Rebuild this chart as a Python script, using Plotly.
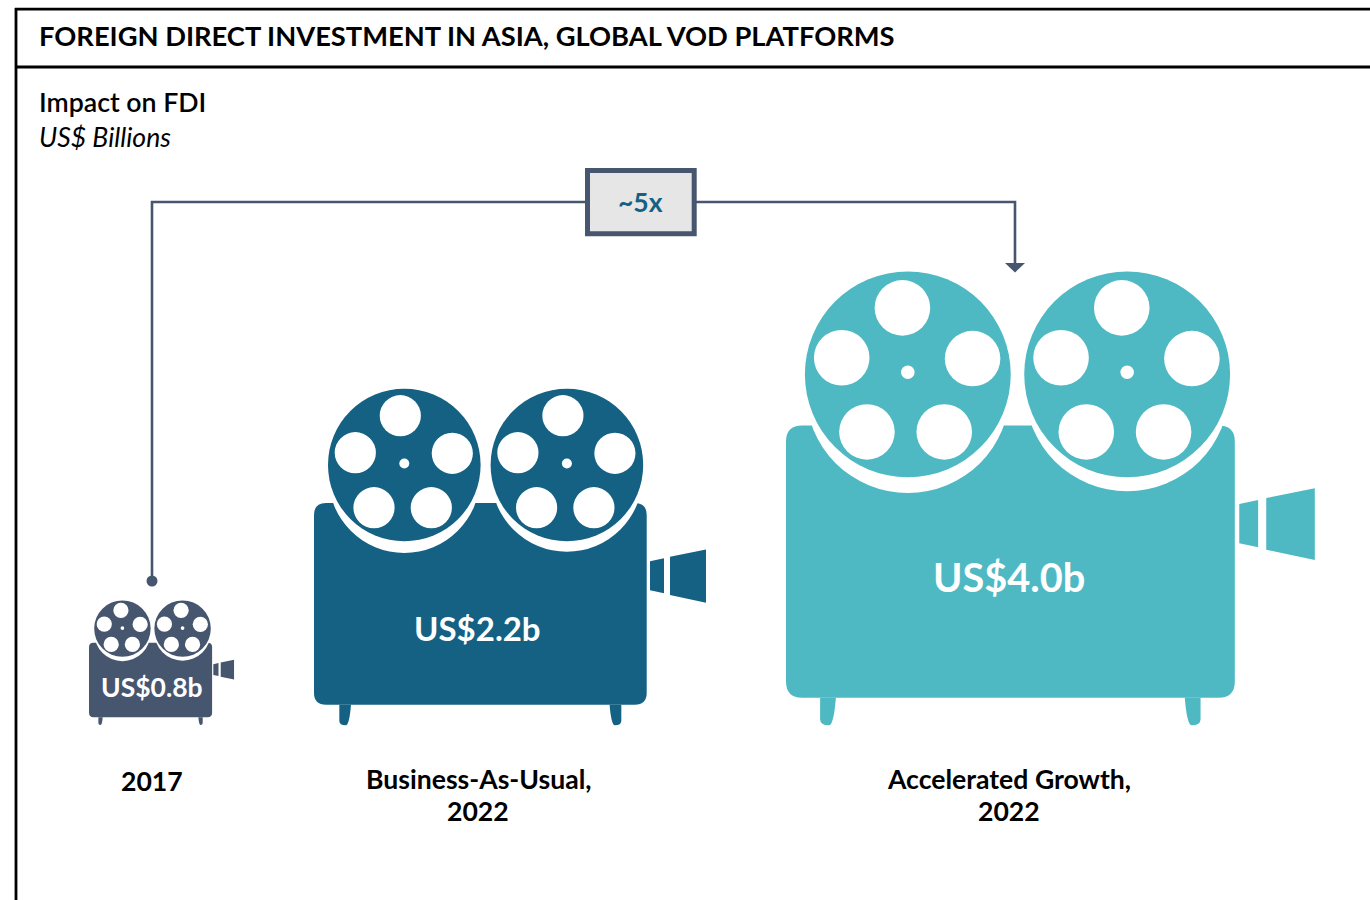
import plotly.graph_objects as go

# ---- data ----
categories = ["2017", "Business-As-Usual,\n2022", "Accelerated Growth,\n2022"]
values = [0.8, 2.2, 4.0]
multiple_label = "~5x"
title = "FOREIGN DIRECT INVESTMENT IN ASIA, GLOBAL VOD PLATFORMS"
subtitle = "Impact on FDI"
unit = "US$ Billions"

# ---- styles / layout ----
colors = ["#47566F", "#146184", "#4EB9C3"]
icon_scale = [0.370, 1.0, 1.349]
icon_left = [89.0, 314.0, 786.0]
icon_bottom = [717.3, 704.7, 697.7]
value_label_y = [686.5, 628, 576.5]
value_label_size = [26.5, 33, 39.7]
value_label_x = [152, 477.7, 1009]
cat_x = [152, 478, 1009]
cat_y = [[781], [779, 810.5], [779, 810.5]]
FONT = "Lato, Carlito, 'Open Sans', sans-serif"
LINE = "#47566F"
INK = "#000000"

shapes = []
annotations = []


def rounded_path(x0, y0, x1, y1, r):
    return (f"M{x0+r},{y0} L{x1-r},{y0} Q{x1},{y0} {x1},{y0+r} L{x1},{y1-r} Q{x1},{y1} {x1-r},{y1} "
            f"L{x0+r},{y1} Q{x0},{y1} {x0},{y1-r} L{x0},{y0+r} Q{x0},{y0} {x0+r},{y0} Z")


def circle(cx, cy, r, fill):
    shapes.append(dict(type="circle", xref="x", yref="y", x0=cx-r, x1=cx+r, y0=cy-r, y1=cy+r,
                       fillcolor=fill, line=dict(width=0), layer="above"))


def path(d, fill):
    shapes.append(dict(type="path", xref="x", yref="y", path=d, fillcolor=fill,
                       line=dict(width=0), layer="above"))


def poly(points, fill):
    d = "M" + " L".join(f"{a},{b}" for a, b in points) + " Z"
    path(d, fill)


def camera(left, bottom, s, color):
    # geometry relative to the body's lower-left corner, in units of the mid-sized icon
    X = lambda u: left + u * s
    Y = lambda v: bottom - v * s
    path(rounded_path(X(0), Y(201.7), X(332.7), Y(0), 12 * s), color)
    # legs
    for sign, base in ((1, 25.3), (-1, 307.3)):
        a = X(base)
        b = X(base + sign * 11.7)
        c = X(base + sign * 6.5)
        d = (f"M{a},{Y(0)} L{a},{Y(-16)} Q{a},{Y(-20.5)} {c},{Y(-20.5)} "
             f"Q{X(base + sign * 10)},{Y(-20.5)} {b},{Y(0)} Z")
        path(d, color)
    # lens
    poly([(X(336), Y(143.5)), (X(350), Y(146.5)), (X(350), Y(111.5)), (X(336), Y(114.5))], color)
    poly([(X(356), Y(148)), (X(392), Y(155.3)), (X(392), Y(102)), (X(356), Y(109.7))], color)
    # reels
    for cu, halo in ((90.3, 12.3), (252.9, 11.0)):
        cv = 239.7
        circle(X(cu), Y(cv - halo), 75.7 * s, "#FFFFFF")
        circle(X(cu), Y(cv), 76.3 * s, color)
        for du, dv in ((-4, 49.3), (-49, 12.3), (48, 11.7), (-30.3, -42.7), (27, -42.7)):
            circle(X(cu + du), Y(cv + dv), 20.6 * s, "#FFFFFF")
        circle(X(cu), Y(cv + 1.5), 5 * s, "#FFFFFF")


def text(x, y, s, size, color=INK, anchor="center", weight=400, italic=False):
    annotations.append(dict(x=x, y=y, xref="x", yref="y", text=s, showarrow=False,
                            xanchor=anchor, yanchor="middle", align=anchor,
                            font=dict(family=FONT, size=size, color=color, weight=weight,
                                      style="italic" if italic else "normal")))


# frame
for a, b, c, d in ((15, 9.2, 1370, 9.2), (16, 8, 16, 900), (15, 67, 1370, 67)):
    shapes.append(dict(type="line", xref="x", yref="y", x0=a, y0=b, x1=c, y1=d,
                       line=dict(color=INK, width=2.8)))

# connector
shapes.append(dict(type="path", xref="x", yref="y",
                   path="M152,581 L152,202 L1015,202 L1015,264",
                   line=dict(color=LINE, width=2.6), fillcolor="rgba(0,0,0,0)"))
circle(152, 581, 5.5, LINE)
poly([(1005, 263), (1025, 263), (1015, 272.5)], LINE)
shapes.append(dict(type="rect", xref="x", yref="y", x0=587.5, x1=694.2, y0=170.5, y1=233.8,
                   fillcolor="#E7E6E6", line=dict(color=LINE, width=5), layer="above"))

# cameras
for left, bottom, s, col in zip(icon_left, icon_bottom, icon_scale, colors):
    camera(left, bottom, s, col)

# text
text(36.5, 35.5, title, 27.3, weight=700, anchor="left")
text(36.5, 102, subtitle, 26.7, weight=600, anchor="left")
text(36.5, 136.5, unit, 26.6, anchor="left", italic=True)
text(640.5, 202, multiple_label, 26.5, color="#146184", weight=700)
for v, x, y, sz in zip(values, value_label_x, value_label_y, value_label_size):
    text(x, y, f"US${v:.1f}b", sz, color="#FFFFFF", weight=700)
for cat, x, ys in zip(categories, cat_x, cat_y):
    for line, y in zip(cat.split("\n"), ys):
        text(x, y, line, 26.6, weight=700)

fig = go.Figure()
fig.update_layout(
    width=1370, height=900, margin=dict(l=0, r=0, t=0, b=0),
    paper_bgcolor="#FFFFFF", plot_bgcolor="#FFFFFF", showlegend=False,
    xaxis=dict(range=[0, 1370], visible=False, fixedrange=True),
    yaxis=dict(range=[900, 0], visible=False, fixedrange=True),
    shapes=shapes, annotations=annotations,
)
fig.write_html("out.html", config={"displayModeBar": False},
               post_script="document.body.style.margin='0';document.body.style.overflow='hidden';")
